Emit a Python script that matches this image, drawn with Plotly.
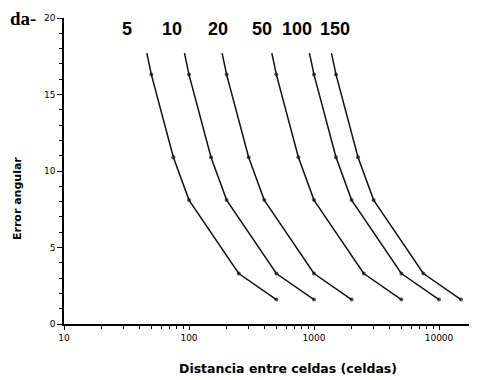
import math
import plotly.graph_objects as go

cell_sizes = ["5", "10", "20", "50", "100", "150"]
angular_error = [17.7, 16.3, 10.9, 8.1, 3.3, 1.6]
dist_5 = [46, 50, 75, 100, 250, 500]
dist_10 = [92, 100, 150, 200, 500, 1000]
dist_20 = [184, 200, 300, 400, 1000, 2000]
dist_50 = [460, 500, 750, 1000, 2500, 5000]
dist_100 = [920, 1000, 1500, 2000, 5000, 10000]
dist_150 = [1380, 1500, 2250, 3000, 7500, 15000]
series = [dist_5, dist_10, dist_20, dist_50, dist_100, dist_150]

label_x = [32, 73, 170, 385, 730, 1470]
label_y = 19.3

x_major = [10, 100, 1000, 10000]
x_minor = [20, 30, 40, 50, 60, 70, 80, 90,
           200, 300, 400, 500, 600, 700, 800, 900,
           2000, 3000, 4000, 5000, 6000, 7000, 8000, 9000, 20000]

fig = go.Figure()
for name, xs in zip(cell_sizes, series):
    fig.add_trace(go.Scatter(
        x=xs, y=angular_error, mode="lines+markers", name=name,
        line=dict(color="#111111", width=1.5),
        marker=dict(color="#111111", size=[0, 4, 4, 4, 4, 4], line=dict(width=0)),
        showlegend=False, hoverinfo="skip"))

for name, lx in zip(cell_sizes, label_x):
    fig.add_annotation(x=math.log10(lx), y=label_y, text=name,
                       showarrow=False, xanchor="center", yanchor="middle",
                       font=dict(family="Liberation Sans", size=18, color="black", weight="bold"))

fig.add_annotation(xref="paper", yref="paper", x=-56 / 413, y=1.0, text="da-",
                   showarrow=False, xanchor="left", yanchor="middle",
                   font=dict(family="Liberation Serif", size=19, color="black", weight="bold"))

# axis titles
fig.add_annotation(xref="paper", yref="paper", x=(288 - 64) / 413, y=-44 / 306,
                   text="<b>Distancia entre celdas (celdas)</b>", showarrow=False,
                   xanchor="center", yanchor="middle",
                   font=dict(family="DejaVu Sans", size=12.5, color="black"))
fig.add_annotation(xref="paper", yref="paper", x=-47 / 413, y=(324 - 199) / 306,
                   text="<b>Error angular</b>", showarrow=False, textangle=-90,
                   xanchor="center", yanchor="middle",
                   font=dict(family="DejaVu Sans", size=11, color="black"))

fig.update_layout(
    width=469, height=372,
    margin=dict(l=56, r=0, t=10, b=56, autoexpand=False),
    plot_bgcolor="white", paper_bgcolor="white",
    font=dict(family="DejaVu Sans", color="black", size=9),
)
fig.update_xaxes(
    type="log", range=[1, 4.304],
    showgrid=False, zeroline=False,
    showline=True, linecolor="black", linewidth=1.5,
    ticks="outside", ticklen=4, tickcolor="black",
    tickmode="array", tickvals=x_major, ticktext=["10", "100", "1000", "10000"],
    minor=dict(ticks="outside", ticklen=3, tickcolor="black", showgrid=False,
               tickmode="array", tickvals=x_minor),
)
fig.update_yaxes(
    range=[0, 20],
    showgrid=False, zeroline=False,
    showline=True, linecolor="black", linewidth=1.5,
    ticks="outside", ticklen=5, tickcolor="black",
    tickmode="linear", tick0=0, dtick=5,
    minor=dict(ticks="outside", ticklen=3, tickcolor="black", tickmode="linear",
               tick0=0, dtick=1, showgrid=False),
)

fig.write_html("out.html")
